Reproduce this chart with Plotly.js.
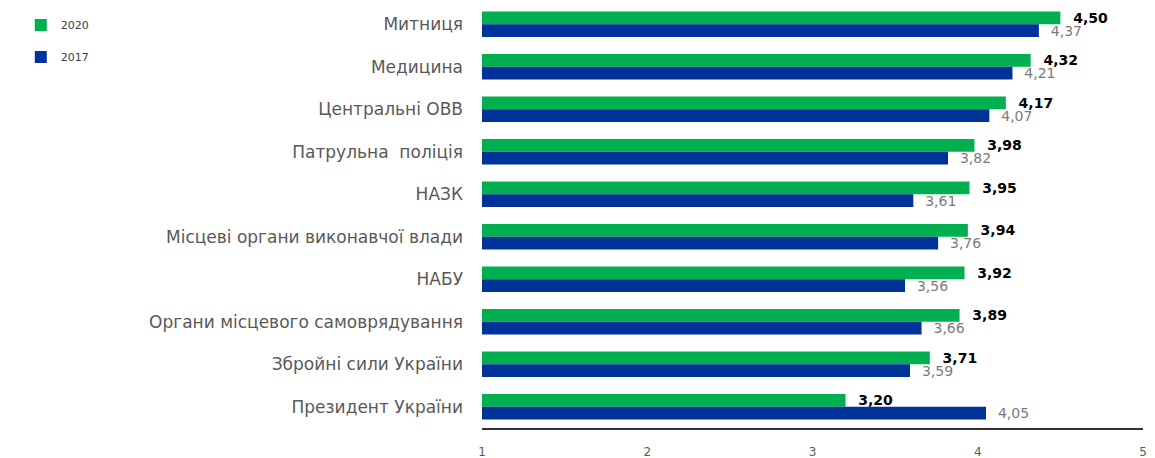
<!DOCTYPE html>
<html><head><meta charset="utf-8">
<script src="https://cdn.plot.ly/plotly-3.0.1.min.js"></script>
<style>html,body{margin:0;padding:0;background:#fff}#chart{width:1155px;height:458px}</style>
</head><body><div id="chart"></div>
<script>
var categories = ["Митниця","Медицина","Центральні ОВВ","Патрульна  поліція","НАЗК","Місцеві органи виконавчої влади","НАБУ","Органи місцевого самоврядування","Збройні сили України","Президент України"];
var values2020 = [4.50,4.32,4.17,3.98,3.95,3.94,3.92,3.89,3.71,3.20];
var values2017 = [4.37,4.21,4.07,3.82,3.61,3.76,3.56,3.66,3.59,4.05];
var seriesNames = ["2020","2017"];
var tickVals = [1,2,3,4,5];

var traces = [
 {type:'bar',orientation:'h',name:seriesNames[0],legendgroup:'a',y:categories,x:values2020,
  marker:{color:'#00b050'},texttemplate:'  %{x:.2f}',textposition:'outside',constraintext:'none',
  textfont:{family:'DejaVu Sans',size:14,color:'#000000',weight:'bold'},cliponaxis:false,hoverinfo:'skip'},
 {type:'bar',orientation:'h',name:seriesNames[1],legendgroup:'b',y:categories,x:values2017,
  marker:{color:'#003399'},texttemplate:'  %{x:.2f}',textposition:'outside',constraintext:'none',
  textfont:{family:'DejaVu Sans',size:14,color:'#7a7a7a'},cliponaxis:false,hoverinfo:'skip'}
];
var layout = {
 width:1155,height:458,separators:', ',
 margin:{l:482,r:12,t:3,b:30},
 barmode:'group',bargap:0.4,bargroupgap:0,
 paper_bgcolor:'#fff',plot_bgcolor:'#fff',
 font:{family:'DejaVu Sans',color:'#595959'},
 xaxis:{range:[1,5],tickvals:tickVals,showgrid:false,zeroline:false,showline:true,linecolor:'#333333',linewidth:2,
   ticks:'',ticklabelstandoff:12,tickfont:{size:12,color:'#595959'},fixedrange:true},
 yaxis:{autorange:'reversed',showgrid:false,zeroline:false,showline:false,ticks:'',ticklabelstandoff:18,
   tickfont:{size:17,color:'#595959'},fixedrange:true},
 showlegend:true,
 legend:{xref:'container',yref:'container',x:0.018,y:0.977,xanchor:'left',yanchor:'top',
   font:{size:11,color:'#404040'},traceorder:'grouped',tracegroupgap:13,itemwidth:30,bgcolor:'rgba(0,0,0,0)'}
};
Plotly.newPlot('chart',traces,layout,{displayModeBar:false,staticPlot:true});
</script></body></html>
